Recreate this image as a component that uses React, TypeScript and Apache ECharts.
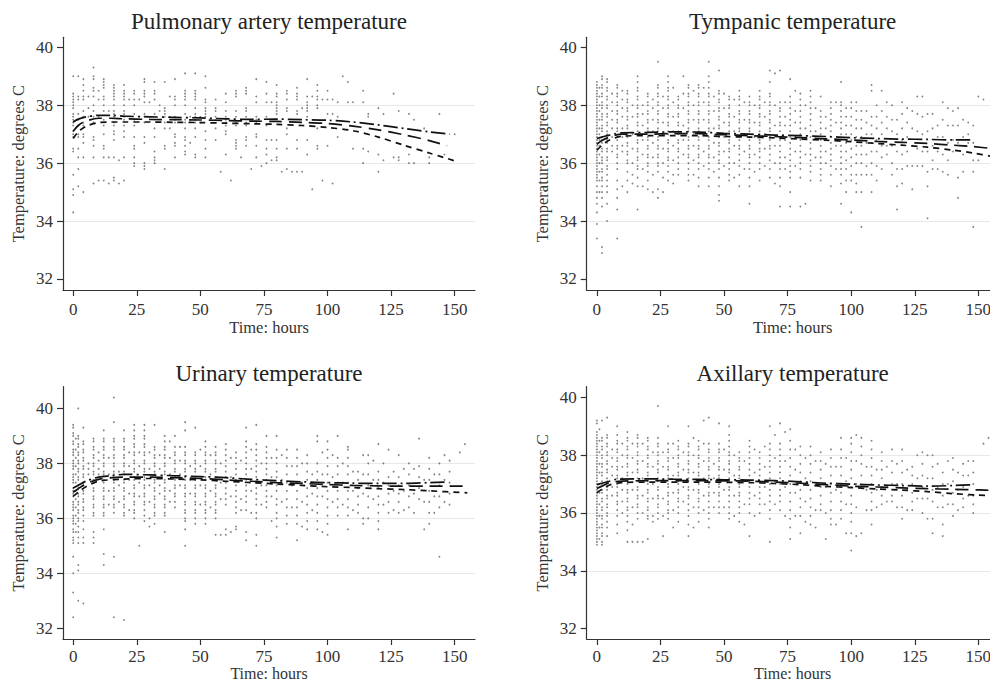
import React, { useEffect, useRef } from 'react';
import * as echarts from 'echarts';

type Col = [number, number[]];
type Pt = [number, number];

const panelTitles = ['Pulmonary artery temperature', 'Tympanic temperature', 'Urinary temperature', 'Axillary temperature'];
const xTickValues = [0, 25, 50, 75, 100, 125, 150];
const yTickValues = [32, 34, 36, 38, 40];
const xAxisTitle = 'Time: hours';
const yAxisTitle = 'Temperature: degrees C';

// ---------- observations: [hour, temperatures at that hour] ----------
const pulmonaryObs: Col[] = [
  [0, [39.0, 38.4, 38.3, 38.2, 38.1, 38.0, 37.9, 37.7, 37.6, 37.5, 37.4, 37.3, 37.1, 37.0, 36.9, 36.5, 36.4, 35.6, 35.1, 34.9, 34.3]],
  [2, [39.0, 38.3, 38.2, 37.7, 37.5, 37.3, 37.0, 36.9, 36.5, 36.2, 35.8, 35.2]],
  [4, [38.9, 38.7, 38.5, 38.3, 38.2, 37.8, 37.6, 37.4, 37.3, 37.0, 36.9, 36.7, 36.2, 35.0]],
  [6, [38.3, 37.9, 37.6]],
  [8, [39.3, 39.0, 38.9, 38.6, 38.5, 38.3, 38.0, 37.8, 37.6, 37.4, 36.9, 36.8, 36.6, 36.2, 35.3]],
  [10, [38.5, 38.2, 37.6, 35.4]],
  [12, [38.9, 38.8, 38.7, 38.6, 38.3, 38.2, 38.0, 37.8, 37.5, 37.3, 37.0, 36.6, 36.5, 36.2, 35.4]],
  [14, [37.8, 36.2, 35.3]],
  [16, [38.7, 38.6, 38.5, 38.4, 38.3, 38.2, 38.0, 37.8, 37.7, 37.6, 37.4, 37.3, 37.1, 37.0, 36.8, 36.2, 35.5, 35.4]],
  [18, [36.1, 35.3]],
  [20, [38.7, 38.5, 38.4, 38.3, 38.2, 38.0, 37.8, 37.7, 37.6, 37.5, 37.3, 37.1, 36.9, 36.2, 35.4]],
  [22, [38.2]],
  [24, [38.5, 38.4, 38.2, 38.0, 37.7, 37.5, 37.3, 36.9, 36.6, 36.5, 36.2, 36.0, 35.9]],
  [26, [38.2]],
  [28, [38.9, 38.8, 38.5, 38.4, 38.3, 38.1, 37.7, 37.6, 37.4, 36.9, 36.7, 36.0, 35.9, 35.8]],
  [30, [38.1]],
  [32, [38.8, 38.5, 38.4, 38.2, 37.7, 37.2, 36.9, 36.4, 36.2, 36.1, 36.0]],
  [34, [38.0, 37.8]],
  [36, [38.8, 37.9, 37.8, 37.7, 37.6, 37.4, 37.2, 36.6, 36.5, 35.8]],
  [38, [38.3, 37.6, 37.2]],
  [40, [38.9, 38.3, 38.2, 38.0, 37.6, 37.5, 37.4, 37.0, 36.9, 36.7, 36.6, 36.2]],
  [44, [39.1, 38.5, 38.4, 38.3, 38.2, 38.0, 37.7, 37.5, 37.4, 37.2, 36.9, 36.8, 36.6, 36.4, 36.3]],
  [46, [37.6, 36.7]],
  [48, [39.1, 38.5, 38.4, 38.3, 38.2, 37.9, 37.7, 37.6, 37.5, 37.4, 37.2, 36.9, 36.3, 36.2]],
  [50, [37.6, 37.4]],
  [52, [39.0, 38.6, 38.2, 38.1, 37.9, 37.8, 37.7, 37.6, 37.1, 36.8, 36.5, 36.2]],
  [56, [38.2, 37.9, 37.8, 37.6, 37.5, 37.2, 36.8]],
  [58, [35.7]],
  [60, [38.4, 38.1, 37.8, 37.6, 37.5, 37.4, 37.3, 37.1, 37.0, 36.3]],
  [62, [35.4]],
  [64, [38.5, 38.4, 38.3, 37.8, 37.6, 37.4, 37.3, 36.8, 36.7, 36.6, 36.5]],
  [66, [36.2]],
  [68, [38.6, 38.5, 38.4, 37.9, 37.8, 37.6, 37.4, 37.3, 36.9, 36.8, 36.6]],
  [70, [35.8]],
  [72, [38.9, 38.3, 38.1, 37.6, 37.5, 37.4, 37.0, 36.9, 36.6, 36.2]],
  [74, [35.9]],
  [76, [38.8, 38.4, 38.1, 37.6, 37.3, 36.8, 36.5, 36.3, 36.0]],
  [78, [38.1, 36.8, 36.1]],
  [80, [38.7, 38.4, 38.3, 38.1, 38.0, 37.9, 37.8, 37.7, 36.8, 36.5, 36.2, 36.1]],
  [82, [35.7]],
  [84, [38.5, 38.4, 38.2, 37.9, 37.8, 37.2, 37.0, 36.5, 35.8]],
  [86, [35.7]],
  [88, [38.6, 38.4, 38.3, 38.2, 37.8, 37.7, 36.8, 36.5, 35.7]],
  [90, [37.9, 35.7]],
  [92, [38.9, 38.3, 38.1, 38.0, 37.9, 37.8, 37.6, 36.8, 36.3]],
  [94, [38.3, 35.1]],
  [96, [38.7, 38.5, 38.3, 38.2, 38.0, 37.9, 37.2, 36.6, 36.5]],
  [98, [38.2, 35.4]],
  [100, [38.5, 38.2, 37.7, 36.6]],
  [102, [38.2, 37.7, 35.3]],
  [104, [38.1, 37.6, 36.9]],
  [106, [39.0]],
  [108, [38.8, 38.1]],
  [110, [38.1, 36.5]],
  [114, [38.5, 38.1, 36.5, 36.0]],
  [116, [37.7, 37.6, 36.4]],
  [120, [37.9, 36.3, 35.7]],
  [122, [37.7, 36.1]],
  [126, [38.4, 36.2]],
  [128, [37.8, 36.2, 36.1]],
  [132, [37.7, 36.3, 36.0]],
  [134, [37.5, 36.0]],
  [138, [37.2]],
  [140, [36.2, 36.0]],
  [144, [37.7]],
  [146, [36.3]],
  [150, [37.0]],
];

const tympanicObs: Col[] = [
  [0, [38.8, 38.7, 38.6, 38.5, 38.4, 38.3, 38.2, 38.1, 38.0, 37.9, 37.8, 37.7, 37.6, 37.5, 37.4, 37.3, 37.2, 37.1, 37.0, 36.9, 36.8, 36.7, 36.6, 36.5, 36.4, 36.3, 36.2, 36.1, 36.0, 35.9, 35.8, 35.7, 35.6, 35.5, 35.4, 35.2, 35.0, 34.8, 34.6, 34.3, 33.9, 33.4]],
  [1, [38.6, 38.3, 38.0, 37.8, 37.5, 37.2, 37.0, 36.8, 36.6, 36.3, 36.0, 35.7, 35.4, 35.0]],
  [2, [39.0, 38.9, 38.7, 38.6, 38.4, 38.3, 38.1, 38.0, 37.9, 37.7, 37.6, 37.5, 37.3, 37.2, 37.1, 36.9, 36.8, 36.7, 36.5, 36.4, 36.2, 36.1, 36.0, 35.8, 35.7, 35.5, 35.4, 35.2, 35.0, 34.8, 34.5, 33.1, 32.9]],
  [4, [38.9, 38.8, 38.6, 38.5, 38.3, 38.2, 38.0, 37.9, 37.7, 37.6, 37.4, 37.3, 37.1, 37.0, 36.8, 36.7, 36.5, 36.4, 36.2, 36.1, 35.9, 35.8, 35.6, 35.4, 35.2, 35.0, 34.6, 34.0]],
  [6, [38.4, 38.1, 37.8, 37.5, 37.2, 36.9, 36.6, 36.4]],
  [8, [38.7, 38.6, 38.4, 38.3, 38.1, 38.0, 37.8, 37.7, 37.5, 37.4, 37.2, 37.1, 36.9, 36.8, 36.6, 36.5, 36.3, 36.2, 36.0, 35.8, 35.4, 35.1, 34.8, 34.4, 33.4]],
  [10, [38.5, 38.2, 37.9, 37.6, 37.2, 36.9, 36.6, 36.4, 35.2]],
  [12, [38.5, 38.4, 38.2, 38.1, 37.9, 37.8, 37.6, 37.5, 37.3, 37.2, 37.0, 36.9, 36.7, 36.6, 36.4, 36.3, 36.1, 36.0, 35.7, 35.4, 35.0]],
  [14, [38.0, 37.6, 37.0, 36.5, 36.0, 35.6, 35.3]],
  [16, [39.0, 38.8, 38.6, 38.5, 38.3, 38.2, 38.0, 37.9, 37.7, 37.6, 37.4, 37.3, 37.1, 37.0, 36.8, 36.7, 36.5, 36.4, 36.2, 36.1, 35.9, 35.8, 35.5, 35.2, 34.4]],
  [18, [38.0, 37.7, 37.3, 36.8, 36.3, 35.8, 35.2]],
  [20, [38.4, 38.3, 38.1, 38.0, 37.8, 37.7, 37.5, 37.4, 37.2, 37.1, 36.9, 36.8, 36.6, 36.5, 36.3, 36.2, 36.0, 35.9, 35.7, 35.4, 35.1]],
  [22, [38.2, 37.9, 37.5, 37.1, 36.7, 36.2, 35.6, 35.0]],
  [24, [39.5, 38.7, 38.6, 38.4, 38.3, 38.1, 38.0, 37.8, 37.7, 37.5, 37.4, 37.2, 37.1, 36.9, 36.8, 36.6, 36.5, 36.3, 36.2, 36.0, 35.9, 35.7, 35.1, 34.8]],
  [26, [38.3, 37.9, 37.4, 37.0, 36.5, 36.0, 35.5, 35.0]],
  [28, [39.0, 38.8, 38.6, 38.5, 38.3, 38.2, 38.0, 37.9, 37.7, 37.6, 37.4, 37.3, 37.1, 37.0, 36.8, 36.7, 36.5, 36.4, 36.2, 36.1, 35.9, 35.7, 35.4]],
  [30, [38.6, 38.1, 37.6, 37.1, 36.6, 36.1, 35.6, 35.3]],
  [32, [38.3, 38.2, 38.0, 37.9, 37.7, 37.6, 37.4, 37.3, 37.1, 37.0, 36.8, 36.7, 36.5, 36.4, 36.2, 36.0, 35.8, 35.6]],
  [34, [39.0, 38.4, 37.9, 37.3, 36.8, 36.3]],
  [36, [38.7, 38.6, 38.4, 38.3, 38.1, 38.0, 37.8, 37.7, 37.5, 37.4, 37.2, 37.1, 36.9, 36.8, 36.6, 36.5, 36.3, 36.2, 36.0, 35.8, 35.6, 35.4]],
  [38, [38.5, 38.0, 37.5, 37.0, 36.6, 36.1, 35.6]],
  [40, [38.7, 38.6, 38.4, 38.3, 38.1, 38.0, 37.8, 37.7, 37.5, 37.4, 37.2, 37.1, 36.9, 36.8, 36.6, 36.5, 36.3, 36.2, 36.0, 35.8, 35.5, 35.2]],
  [42, [38.6, 38.1, 37.5, 37.0, 36.4, 35.9]],
  [44, [39.5, 39.0, 38.8, 38.6, 38.4, 38.3, 38.1, 38.0, 37.8, 37.7, 37.5, 37.4, 37.2, 37.1, 36.9, 36.8, 36.6, 36.5, 36.3, 36.2, 36.0, 35.8, 35.5, 35.2]],
  [46, [38.3, 37.8, 37.2, 36.7, 36.2, 35.7]],
  [48, [39.2, 38.5, 38.4, 38.2, 38.1, 37.9, 37.8, 37.6, 37.5, 37.3, 37.2, 37.0, 36.9, 36.7, 36.6, 36.4, 36.3, 36.1, 36.0, 35.8, 35.5, 35.2, 34.9, 34.7]],
  [50, [38.4, 37.9, 37.4, 36.9, 36.4, 35.9]],
  [52, [38.3, 38.2, 38.0, 37.9, 37.7, 37.6, 37.4, 37.3, 37.1, 37.0, 36.8, 36.7, 36.5, 36.4, 36.2, 36.0, 35.8, 35.6, 35.4]],
  [54, [38.2, 37.6, 37.1, 36.6, 36.0, 35.5]],
  [56, [38.5, 38.3, 38.2, 38.0, 37.8, 37.7, 37.5, 37.4, 37.2, 37.1, 36.9, 36.8, 36.6, 36.5, 36.3, 36.1, 35.9, 35.6, 35.2]],
  [58, [38.1, 37.5, 37.0, 36.4, 35.8]],
  [60, [38.3, 38.1, 38.0, 37.8, 37.7, 37.5, 37.4, 37.2, 37.1, 36.9, 36.8, 36.6, 36.5, 36.3, 36.2, 36.0, 35.8, 35.5, 35.2, 34.6]],
  [62, [38.0, 37.4, 36.9, 36.3, 35.7]],
  [64, [38.5, 38.3, 38.2, 38.0, 37.9, 37.7, 37.6, 37.4, 37.3, 37.1, 37.0, 36.8, 36.7, 36.5, 36.4, 36.2, 36.0, 35.8, 35.4]],
  [66, [38.1, 37.6, 37.0, 36.5, 35.9]],
  [68, [39.2, 38.8, 38.4, 38.3, 38.1, 38.0, 37.8, 37.7, 37.5, 37.4, 37.2, 37.1, 36.9, 36.8, 36.6, 36.5, 36.3, 36.1, 35.8, 35.5]],
  [70, [39.1, 38.0, 37.3, 36.6, 36.0, 35.3]],
  [72, [39.2, 38.1, 37.9, 37.8, 37.6, 37.4, 37.3, 37.1, 36.9, 36.8, 36.6, 36.4, 36.2, 36.0, 35.8, 35.5, 35.2, 34.5]],
  [74, [38.1, 37.6, 37.3, 36.8, 36.2, 35.8]],
  [76, [38.9, 38.3, 38.1, 37.9, 37.7, 37.5, 37.3, 37.1, 36.9, 36.7, 36.5, 36.3, 36.1, 35.9, 35.7, 35.5, 35.0, 34.5]],
  [78, [38.5, 37.8, 37.4, 36.9, 36.4, 35.9]],
  [80, [38.4, 38.2, 38.0, 37.8, 37.6, 37.4, 37.2, 37.0, 36.8, 36.6, 36.4, 36.2, 36.0, 35.8, 35.5, 34.5]],
  [82, [38.0, 37.2, 36.3, 34.6]],
  [84, [38.5, 38.3, 38.1, 37.9, 37.7, 37.5, 37.3, 37.1, 36.9, 36.7, 36.5, 36.3, 36.1, 35.9, 35.7, 35.4]],
  [86, [37.9, 37.1, 36.2]],
  [88, [38.3, 37.8, 37.6, 37.4, 37.2, 37.0, 36.8, 36.6, 36.4, 36.2, 36.0, 35.8, 35.6, 35.4]],
  [90, [37.6, 37.2, 36.8, 36.4, 36.0]],
  [92, [38.1, 37.9, 37.7, 37.5, 37.3, 37.1, 36.9, 36.7, 36.5, 36.3, 36.1, 35.9, 35.6, 35.2]],
  [94, [38.1, 37.4, 36.6, 35.8]],
  [96, [38.8, 38.1, 38.0, 37.8, 37.6, 37.4, 37.2, 37.0, 36.8, 36.6, 36.4, 36.2, 36.0, 35.8, 35.6, 35.3, 34.6]],
  [98, [37.9, 37.6, 37.3, 37.0, 36.7, 36.4, 36.1, 35.8, 35.4, 35.0]],
  [100, [38.1, 37.9, 37.6, 37.3, 37.0, 36.8, 36.5, 36.2, 35.9, 35.6, 35.4, 34.3]],
  [102, [38.1, 37.8, 37.5, 37.2, 36.9, 36.6, 36.3, 36.0, 35.6, 35.3, 35.0]],
  [104, [37.8, 37.5, 37.2, 36.9, 36.6, 36.3, 36.0, 35.6, 35.0, 33.8]],
  [106, [37.8, 37.4, 37.0, 36.7, 36.3, 35.9, 35.6]],
  [108, [38.7, 38.5, 37.6, 37.3, 37.0, 36.7, 36.4, 36.0, 35.6, 35.0]],
  [110, [38.0, 37.6, 37.2, 36.8, 36.4, 35.9, 35.4]],
  [112, [38.5, 37.8, 37.4, 37.0, 36.6, 36.2, 35.8]],
  [114, [38.1, 37.6, 37.2, 36.6, 36.3]],
  [116, [38.0, 37.5, 37.1, 36.6, 36.0, 35.6]],
  [118, [37.5, 37.0, 36.4, 35.8, 35.2, 34.4]],
  [120, [38.1, 37.7, 37.2, 36.8, 36.3, 35.8, 35.3]],
  [122, [37.9, 37.4, 36.9, 36.4, 35.9]],
  [124, [37.8, 37.2, 36.6, 35.9, 35.1]],
  [126, [38.3, 37.7, 37.1, 36.5, 35.9]],
  [128, [38.3, 37.6, 37.0, 36.4, 35.9]],
  [130, [37.7, 37.1, 36.4, 35.7, 35.2, 34.1]],
  [132, [37.7, 37.2, 36.6, 36.1, 35.8]],
  [134, [37.3, 36.9, 36.4, 35.8]],
  [136, [38.1, 37.5, 36.9, 36.3, 35.7]],
  [138, [37.9, 37.3, 36.7, 36.1, 35.6]],
  [140, [37.8, 37.3, 36.8, 36.4]],
  [142, [37.9, 37.3, 36.7, 35.5, 34.8]],
  [144, [37.5, 36.9, 36.3, 35.7]],
  [146, [37.4, 37.0, 36.7]],
  [148, [37.3, 36.7, 36.1, 35.7, 33.8]],
  [150, [38.3, 36.1]],
  [152, [38.2]],
];

const urinaryObs: Col[] = [
  [0, [39.4, 39.3, 39.1, 39.0, 38.8, 38.7, 38.5, 38.4, 38.3, 38.1, 38.0, 37.9, 37.8, 37.6, 37.5, 37.4, 37.3, 37.1, 37.0, 36.9, 36.8, 36.6, 36.5, 36.4, 36.3, 36.1, 36.0, 35.9, 35.8, 35.6, 35.5, 35.3, 35.2, 35.1, 34.6, 34.0, 33.3, 32.4]],
  [1, [38.9, 38.5, 38.2, 37.9, 37.6, 37.3, 37.0, 36.7, 36.4, 36.1, 35.8, 35.5]],
  [2, [40.0, 39.0, 38.9, 38.7, 38.6, 38.4, 38.3, 38.1, 38.0, 37.8, 37.7, 37.5, 37.4, 37.2, 37.1, 36.9, 36.8, 36.6, 36.5, 36.3, 36.2, 36.0, 35.9, 35.7, 35.5, 35.3, 35.1, 34.3, 34.1, 33.0]],
  [4, [39.3, 38.8, 38.7, 38.5, 38.4, 38.2, 38.1, 37.9, 37.8, 37.6, 37.5, 37.3, 37.2, 37.0, 36.9, 36.7, 36.6, 36.4, 36.3, 36.1, 35.9, 35.6, 35.3, 35.1, 32.9]],
  [6, [38.0, 37.8, 37.6]],
  [8, [38.9, 38.8, 38.6, 38.5, 38.3, 38.2, 38.0, 37.9, 37.7, 37.6, 37.4, 37.3, 37.1, 37.0, 36.8, 36.7, 36.5, 36.4, 36.2, 36.1, 35.5, 35.3, 35.1]],
  [10, [38.4, 38.1, 37.8, 37.6]],
  [12, [39.2, 38.9, 38.8, 38.6, 38.5, 38.3, 38.2, 38.0, 37.9, 37.7, 37.6, 37.4, 37.3, 37.1, 37.0, 36.8, 36.7, 36.5, 36.4, 36.2, 36.1, 35.6, 34.7, 34.3]],
  [14, [38.2, 37.6, 37.0, 36.5]],
  [16, [40.4, 39.5, 38.9, 38.8, 38.6, 38.5, 38.3, 38.2, 38.0, 37.9, 37.7, 37.6, 37.4, 37.3, 37.1, 37.0, 36.8, 36.7, 36.5, 36.4, 36.2, 34.6, 32.4]],
  [18, [37.7, 37.2, 36.6]],
  [20, [39.2, 38.9, 38.8, 38.6, 38.5, 38.3, 38.2, 38.0, 37.9, 37.7, 37.6, 37.4, 37.3, 37.1, 37.0, 36.8, 36.7, 36.5, 36.4, 36.2, 36.1, 32.3]],
  [22, [38.4, 37.9, 37.4, 36.9, 36.3]],
  [24, [39.4, 39.2, 39.0, 38.9, 38.7, 38.6, 38.4, 38.3, 38.1, 38.0, 37.8, 37.7, 37.5, 37.4, 37.2, 37.1, 36.9, 36.8, 36.6, 36.5, 36.3, 36.2, 36.0]],
  [26, [38.4, 37.9, 37.3, 36.8, 35.0]],
  [28, [39.4, 39.2, 39.0, 38.9, 38.7, 38.6, 38.4, 38.3, 38.1, 38.0, 37.8, 37.7, 37.5, 37.4, 37.2, 37.1, 36.9, 36.8, 36.6, 36.5, 36.3, 36.1, 35.9]],
  [30, [38.4, 37.8, 37.2, 36.6, 36.0, 35.7]],
  [32, [39.4, 38.6, 38.5, 38.3, 38.2, 38.0, 37.9, 37.7, 37.6, 37.4, 37.3, 37.1, 37.0, 36.8, 36.7, 36.5, 36.4, 36.2, 36.1, 35.8]],
  [34, [38.3, 37.8, 37.2, 36.9]],
  [36, [39.0, 38.8, 38.6, 38.5, 38.3, 38.2, 38.0, 37.9, 37.7, 37.6, 37.4, 37.3, 37.1, 37.0, 36.8, 36.7, 36.5, 36.4, 36.2, 36.1, 35.5]],
  [38, [38.8, 38.2, 37.6, 37.0, 36.6]],
  [40, [39.0, 38.6, 38.4, 38.3, 38.1, 38.0, 37.8, 37.7, 37.5, 37.4, 37.2, 37.1, 36.9, 36.8, 36.6, 36.4]],
  [42, [38.6, 38.1, 37.6, 37.2]],
  [44, [39.5, 39.2, 38.6, 38.4, 38.3, 38.1, 38.0, 37.8, 37.7, 37.5, 37.4, 37.2, 37.1, 36.9, 36.8, 36.6, 36.5, 36.3, 36.2, 36.0, 35.9, 35.6, 35.0]],
  [46, [37.9, 37.4, 36.9]],
  [48, [39.3, 38.4, 38.3, 38.1, 38.0, 37.8, 37.7, 37.5, 37.4, 37.2, 37.1, 36.9, 36.8, 36.6, 36.5, 36.3, 36.2, 36.0, 35.8]],
  [50, [38.5, 37.9, 37.2, 36.5]],
  [52, [38.8, 38.6, 38.4, 38.3, 38.1, 38.0, 37.8, 37.7, 37.5, 37.4, 37.2, 37.1, 36.9, 36.8, 36.6, 36.5, 36.3, 36.2, 36.0, 35.8]],
  [54, [38.3, 37.6, 37.0, 36.4]],
  [56, [38.6, 38.4, 38.3, 38.1, 38.0, 37.8, 37.7, 37.5, 37.4, 37.2, 37.1, 36.9, 36.8, 36.6, 36.5, 36.3, 36.2, 36.0, 35.4]],
  [58, [38.0, 37.3, 36.7, 35.4]],
  [60, [38.7, 38.5, 38.3, 38.1, 37.9, 37.7, 37.5, 37.3, 37.1, 36.9, 36.7, 36.5, 35.6, 35.4]],
  [62, [38.2, 37.5, 36.8, 35.5]],
  [64, [38.4, 38.2, 38.0, 37.8, 37.6, 37.4, 37.2, 37.0, 36.8, 36.6, 36.4, 36.2, 35.7, 35.6]],
  [66, [38.1, 37.4, 36.7, 36.3]],
  [68, [39.3, 38.8, 38.6, 38.4, 38.2, 38.0, 37.8, 37.6, 37.4, 37.2, 37.0, 36.8, 36.6, 36.3, 35.5, 35.2]],
  [70, [38.5, 37.8, 37.0, 36.2]],
  [72, [39.4, 38.7, 38.5, 38.3, 38.1, 37.9, 37.7, 37.5, 37.3, 37.1, 36.9, 36.7, 36.5, 36.2, 36.0, 35.4, 35.0]],
  [74, [38.0, 37.2, 36.5]],
  [76, [39.0, 38.6, 38.4, 38.2, 38.0, 37.8, 37.6, 37.4, 37.2, 37.0, 36.8, 36.6, 36.4]],
  [78, [38.2, 37.5, 36.8, 35.9]],
  [80, [39.0, 38.5, 38.2, 38.0, 37.7, 37.5, 37.2, 37.0, 36.7, 36.5, 36.2, 36.0, 35.7, 35.3]],
  [82, [38.3, 37.4, 36.6]],
  [84, [38.5, 38.2, 37.9, 37.6, 37.3, 37.0, 36.7, 36.4, 36.1, 35.8]],
  [86, [37.9, 37.2, 36.4]],
  [88, [38.5, 38.2, 37.9, 37.6, 37.3, 37.0, 36.7, 36.4, 36.1, 35.8, 35.2]],
  [90, [38.0, 37.3, 36.6, 35.7]],
  [92, [38.3, 38.0, 37.7, 37.4, 37.1, 36.8, 36.5, 36.2, 35.9, 35.6]],
  [94, [37.6, 36.9, 36.3]],
  [96, [39.0, 38.8, 38.0, 37.7, 37.4, 37.1, 36.8, 36.5, 36.2, 35.9, 35.6]],
  [98, [38.4, 37.6, 36.8, 35.5]],
  [100, [38.8, 38.5, 38.2, 37.9, 37.6, 37.3, 37.0, 36.7, 36.4, 36.1, 35.8, 35.4]],
  [102, [38.3, 37.5, 36.6]],
  [104, [39.0, 38.2, 37.9, 37.6, 37.3, 37.0, 36.7, 36.4, 36.1]],
  [106, [38.0, 37.3, 36.5]],
  [108, [38.6, 38.5, 38.2, 37.9, 37.6, 37.3, 37.0, 36.7, 36.4, 36.1, 35.6]],
  [110, [37.7, 37.0, 36.3]],
  [112, [37.7, 37.4, 37.1, 36.8, 36.5, 36.2]],
  [114, [38.3, 37.6, 36.9, 36.0, 35.8]],
  [116, [38.3, 38.0, 37.6, 37.2, 36.8, 36.4, 36.0]],
  [118, [38.1, 37.4, 36.7]],
  [120, [38.7, 37.7, 37.4, 37.1, 36.8, 36.5, 36.2, 35.9, 35.6]],
  [122, [38.0, 37.3, 36.5]],
  [124, [38.5, 37.5, 37.2, 36.9, 36.6, 36.2]],
  [126, [37.7, 37.0, 36.3]],
  [128, [38.3, 37.5, 37.2, 36.9, 36.6, 36.2]],
  [130, [37.8, 37.0, 36.3]],
  [132, [38.0, 37.6, 37.2, 36.8, 36.4]],
  [134, [37.8, 36.9, 36.2]],
  [136, [38.9, 37.9, 37.5, 37.1, 36.7]],
  [138, [37.4, 36.6, 35.6]],
  [140, [38.2, 37.8, 37.4, 37.0, 36.6, 36.2, 35.8]],
  [142, [37.6, 36.8, 36.2]],
  [144, [38.0, 37.6, 37.2, 36.8, 36.4, 34.6]],
  [146, [38.3, 37.4, 36.6]],
  [148, [38.1, 37.7, 37.3, 36.9, 36.5]],
  [152, [38.4]],
  [154, [38.7]],
];

const axillaryObs: Col[] = [
  [0, [39.2, 39.1, 38.8, 38.7, 38.6, 38.5, 38.4, 38.3, 38.2, 38.1, 38.0, 37.9, 37.8, 37.7, 37.6, 37.5, 37.4, 37.3, 37.2, 37.1, 37.0, 36.9, 36.8, 36.7, 36.6, 36.5, 36.4, 36.3, 36.2, 36.1, 36.0, 35.9, 35.8, 35.7, 35.6, 35.5, 35.4, 35.3, 35.2, 35.1, 35.0, 34.9]],
  [1, [38.9, 38.5, 38.1, 37.7, 37.4, 37.0, 36.7, 36.3, 35.9, 35.5, 35.1]],
  [2, [39.2, 38.6, 38.5, 38.3, 38.2, 38.0, 37.9, 37.7, 37.6, 37.4, 37.3, 37.1, 37.0, 36.8, 36.7, 36.5, 36.4, 36.2, 36.1, 35.9, 35.8, 35.6, 35.5, 35.3, 35.2, 35.0, 34.9]],
  [4, [39.3, 38.7, 38.6, 38.4, 38.3, 38.1, 38.0, 37.8, 37.7, 37.5, 37.4, 37.2, 37.1, 36.9, 36.8, 36.6, 36.5, 36.3, 36.2, 36.0, 35.9, 35.7, 35.5, 35.2]],
  [6, [38.2, 37.9, 37.6, 37.3, 36.9, 36.6]],
  [8, [39.0, 38.7, 38.5, 38.4, 38.2, 38.1, 37.9, 37.8, 37.6, 37.5, 37.3, 37.2, 37.0, 36.9, 36.7, 36.6, 36.4, 36.3, 36.1, 35.9, 35.6, 35.3]],
  [10, [38.4, 38.0, 37.6, 37.2, 36.8, 36.4, 36.0]],
  [12, [38.8, 38.6, 38.5, 38.3, 38.2, 38.0, 37.9, 37.7, 37.6, 37.4, 37.3, 37.1, 37.0, 36.8, 36.7, 36.5, 36.4, 36.2, 36.1, 35.9, 35.7, 35.4, 35.0]],
  [14, [38.4, 37.9, 37.4, 36.8, 36.2, 35.6, 35.0]],
  [16, [38.7, 38.6, 38.4, 38.3, 38.1, 38.0, 37.8, 37.7, 37.5, 37.4, 37.2, 37.1, 36.9, 36.8, 36.6, 36.5, 36.3, 36.2, 36.0, 35.8, 35.0]],
  [18, [38.4, 37.8, 37.2, 36.6, 36.0, 35.0]],
  [20, [38.6, 38.5, 38.3, 38.2, 38.0, 37.9, 37.7, 37.6, 37.4, 37.3, 37.1, 37.0, 36.8, 36.7, 36.5, 36.4, 36.2, 36.1, 35.9, 35.8, 35.1]],
  [22, [38.1, 37.6, 37.0, 36.5, 35.9, 35.7]],
  [24, [39.7, 38.6, 38.4, 38.3, 38.1, 38.0, 37.8, 37.7, 37.5, 37.4, 37.2, 37.1, 36.9, 36.8, 36.6, 36.5, 36.3, 36.2, 36.0, 35.8]],
  [26, [38.1, 37.6, 37.1, 36.5, 35.9, 35.2]],
  [28, [39.0, 38.4, 38.2, 38.1, 37.9, 37.8, 37.6, 37.5, 37.3, 37.2, 37.0, 36.9, 36.7, 36.6, 36.4, 36.3, 36.1, 36.0, 35.8]],
  [30, [38.4, 37.9, 37.3, 36.7, 36.1, 35.5]],
  [32, [38.5, 38.3, 38.2, 38.0, 37.9, 37.7, 37.6, 37.4, 37.3, 37.1, 37.0, 36.8, 36.7, 36.5, 36.4, 36.2, 36.0, 35.7]],
  [34, [38.1, 37.5, 36.9, 36.4]],
  [36, [39.0, 38.4, 38.3, 38.1, 38.0, 37.8, 37.7, 37.5, 37.4, 37.2, 37.1, 36.9, 36.8, 36.6, 36.5, 36.3, 36.1, 35.9, 35.6, 35.2]],
  [38, [38.6, 38.0, 37.4, 36.8, 36.2, 35.5]],
  [40, [38.5, 38.3, 38.2, 38.0, 37.9, 37.7, 37.6, 37.4, 37.3, 37.1, 37.0, 36.8, 36.7, 36.5, 36.4, 36.2, 36.0, 35.7]],
  [42, [39.2, 38.4, 37.8, 37.2, 36.6, 36.1]],
  [44, [39.3, 38.4, 38.2, 38.1, 37.9, 37.8, 37.6, 37.5, 37.3, 37.2, 37.0, 36.9, 36.7, 36.6, 36.4, 36.2, 36.0, 35.8, 35.5]],
  [46, [37.7, 37.2, 36.7, 36.2]],
  [48, [39.1, 38.4, 38.2, 38.1, 37.9, 37.8, 37.6, 37.5, 37.3, 37.2, 37.0, 36.9, 36.7, 36.6, 36.4, 36.2, 36.0]],
  [50, [38.2, 37.5, 36.8, 36.2]],
  [52, [39.0, 38.7, 38.5, 38.3, 38.1, 38.0, 37.8, 37.7, 37.5, 37.4, 37.2, 37.1, 36.9, 36.8, 36.6, 36.4, 36.2, 36.0, 35.8]],
  [54, [38.0, 37.3, 36.6, 35.9]],
  [56, [38.1, 37.9, 37.8, 37.6, 37.5, 37.3, 37.2, 37.0, 36.9, 36.7, 36.6, 36.4, 36.2, 36.0, 35.7]],
  [58, [37.8, 37.1, 36.3, 35.6]],
  [60, [38.5, 38.3, 38.1, 37.9, 37.7, 37.5, 37.3, 37.1, 36.9, 36.7, 36.5, 36.3, 36.0, 35.2]],
  [62, [38.2, 37.4, 36.6, 35.9]],
  [64, [38.1, 37.9, 37.7, 37.5, 37.3, 37.1, 36.9, 36.7, 36.5, 36.3, 36.0]],
  [66, [38.3, 37.6, 36.9, 36.3]],
  [68, [39.0, 38.4, 38.2, 38.0, 37.8, 37.6, 37.4, 37.2, 37.0, 36.8, 36.6, 36.4, 36.1, 35.8, 35.0]],
  [70, [38.7, 37.9, 37.1, 36.3]],
  [72, [39.1, 38.4, 38.2, 38.0, 37.8, 37.6, 37.4, 37.2, 37.0, 36.8, 36.6, 36.4, 36.1]],
  [74, [38.8, 37.8, 36.9, 35.9]],
  [76, [38.9, 38.5, 38.2, 37.9, 37.6, 37.3, 37.0, 36.7, 36.4, 36.1, 35.8, 35.5, 35.1]],
  [78, [38.2, 37.5, 36.7, 35.9]],
  [80, [38.3, 38.0, 37.7, 37.4, 37.1, 36.8, 36.5, 36.2, 35.9, 35.3]],
  [82, [37.9, 37.2, 36.4, 35.7]],
  [84, [38.3, 38.0, 37.7, 37.4, 37.1, 36.8, 36.5, 36.2, 35.9, 35.6]],
  [86, [37.8, 37.0, 36.1, 35.5]],
  [88, [38.1, 37.8, 37.5, 37.2, 36.9, 36.6, 36.3, 36.1]],
  [90, [37.7, 36.9, 36.0, 35.1]],
  [92, [38.2, 37.9, 37.6, 37.3, 37.0, 36.7, 36.4, 36.1, 35.8, 35.6]],
  [94, [37.6, 36.8, 35.6]],
  [96, [38.6, 38.2, 37.9, 37.6, 37.3, 37.0, 36.7, 36.4, 36.1, 35.8]],
  [98, [37.9, 37.1, 36.3, 35.3]],
  [100, [38.6, 38.4, 38.1, 37.8, 37.5, 37.2, 36.9, 36.6, 36.3, 36.0, 35.7, 35.3, 34.7]],
  [102, [38.7, 37.8, 37.0, 36.2, 35.2]],
  [104, [38.6, 38.3, 38.0, 37.7, 37.3, 35.3]],
  [106, [37.6, 36.8, 36.1]],
  [108, [38.5, 38.2, 37.9, 37.6, 37.3, 37.0, 36.7, 36.4, 36.1, 35.6]],
  [110, [37.5, 36.8, 36.2]],
  [112, [38.1, 37.8, 37.5, 37.2, 36.9, 36.6, 36.3]],
  [114, [37.6, 36.9, 36.4]],
  [116, [38.2, 37.8, 37.4, 37.0, 36.6, 36.4]],
  [118, [37.7, 37.0, 36.2]],
  [120, [38.2, 37.8, 37.4, 37.0, 36.6, 36.2, 35.8]],
  [122, [37.5, 36.8, 36.1]],
  [124, [37.6, 37.3, 37.0, 36.7, 36.4, 36.1]],
  [126, [38.0, 37.2, 36.5]],
  [128, [38.1, 37.7, 37.3, 36.9, 36.5, 36.0]],
  [130, [38.0, 37.2, 36.5, 35.8]],
  [132, [38.0, 37.6, 37.2, 36.8, 36.4, 35.8, 35.3]],
  [134, [37.7, 36.9, 36.2]],
  [136, [37.4, 37.0, 36.6, 36.2, 35.6, 35.2]],
  [138, [37.8, 37.0, 36.3]],
  [140, [37.9, 37.5, 37.1, 36.7, 36.3, 35.9]],
  [142, [37.4, 36.8, 36.1]],
  [144, [37.7, 37.3, 36.9, 36.5, 36.2]],
  [146, [37.8, 37.3, 36.6]],
  [148, [37.8, 37.4, 37.0, 36.6, 36.3, 36.0]],
  [152, [38.4]],
  [154, [38.6]],
];

// ---------- fitted curves: [hour, temperature] ----------
const pulmonaryFitA: Pt[] = [[0, 37.42], [2, 37.52], [5, 37.6], [10, 37.65], [15, 37.65], [20, 37.62], [30, 37.6], [40, 37.58], [50, 37.56], [60, 37.53], [70, 37.51], [80, 37.52], [90, 37.5], [100, 37.48], [110, 37.42], [120, 37.32], [130, 37.2], [140, 37.08], [148, 37.0]];
const pulmonaryFitB: Pt[] = [[0, 37.1], [2, 37.3], [5, 37.45], [10, 37.55], [15, 37.55], [20, 37.53], [30, 37.51], [40, 37.5], [50, 37.49], [60, 37.47], [70, 37.45], [80, 37.44], [90, 37.41], [100, 37.37], [110, 37.28], [120, 37.15], [130, 36.98], [140, 36.78], [147, 36.6]];
const pulmonaryFitC: Pt[] = [[0, 36.85], [2, 37.08], [5, 37.27], [10, 37.4], [15, 37.42], [20, 37.42], [30, 37.42], [40, 37.41], [50, 37.4], [60, 37.38], [70, 37.36], [80, 37.34], [90, 37.3], [100, 37.23], [110, 37.12], [120, 36.9], [130, 36.62], [140, 36.35], [150, 36.08]];

const tympanicFitA: Pt[] = [[0, 36.85], [2, 36.9], [5, 36.97], [10, 37.05], [20, 37.06], [30, 37.08], [40, 37.07], [50, 37.03], [60, 37.0], [70, 36.97], [80, 36.95], [90, 36.92], [100, 36.88], [110, 36.85], [120, 36.83], [130, 36.82], [140, 36.8], [148, 36.8]];
const tympanicFitB: Pt[] = [[0, 36.65], [2, 36.78], [5, 36.9], [10, 37.0], [20, 37.0], [30, 37.02], [40, 37.02], [50, 36.98], [60, 36.95], [70, 36.92], [80, 36.88], [90, 36.84], [100, 36.8], [110, 36.75], [120, 36.72], [130, 36.68], [140, 36.62], [148, 36.57], [156, 36.5]];
const tympanicFitC: Pt[] = [[0, 36.45], [2, 36.62], [5, 36.8], [10, 36.93], [20, 36.95], [30, 36.95], [40, 36.95], [50, 36.92], [60, 36.9], [70, 36.87], [80, 36.83], [90, 36.79], [100, 36.74], [110, 36.68], [120, 36.62], [130, 36.55], [140, 36.45], [148, 36.35], [156, 36.22]];

const urinaryFitA: Pt[] = [[0, 37.1], [2, 37.2], [5, 37.35], [10, 37.5], [15, 37.55], [20, 37.6], [30, 37.58], [40, 37.55], [50, 37.52], [60, 37.48], [70, 37.42], [80, 37.37], [90, 37.33], [100, 37.3], [110, 37.28], [120, 37.27], [130, 37.27], [140, 37.3], [147, 37.32]];
const urinaryFitB: Pt[] = [[0, 36.95], [2, 37.08], [5, 37.25], [10, 37.42], [20, 37.5], [30, 37.5], [40, 37.48], [50, 37.45], [60, 37.4], [70, 37.35], [80, 37.3], [90, 37.27], [100, 37.23], [110, 37.2], [120, 37.18], [130, 37.17], [140, 37.17], [155, 37.17]];
const urinaryFitC: Pt[] = [[0, 36.8], [2, 36.95], [5, 37.15], [10, 37.35], [20, 37.43], [30, 37.45], [40, 37.43], [50, 37.4], [60, 37.35], [70, 37.3], [80, 37.25], [90, 37.2], [100, 37.15], [110, 37.12], [120, 37.08], [130, 37.05], [140, 37.0], [155, 36.93]];

const axillaryFitA: Pt[] = [[0, 36.98], [2, 37.03], [5, 37.1], [8, 37.17], [20, 37.18], [30, 37.17], [40, 37.16], [50, 37.15], [60, 37.14], [70, 37.12], [80, 37.08], [90, 37.03], [100, 37.0], [110, 36.97], [120, 36.95], [130, 36.93], [140, 36.95], [148, 36.98]];
const axillaryFitB: Pt[] = [[0, 36.85], [2, 36.93], [5, 37.05], [10, 37.1], [20, 37.12], [40, 37.12], [60, 37.1], [70, 37.07], [80, 37.03], [90, 36.98], [100, 36.93], [110, 36.9], [120, 36.87], [130, 36.84], [140, 36.82], [150, 36.8], [156, 36.78]];
const axillaryFitC: Pt[] = [[0, 36.7], [2, 36.82], [5, 36.97], [10, 37.05], [20, 37.07], [40, 37.07], [60, 37.05], [70, 37.02], [80, 36.98], [90, 36.92], [100, 36.88], [110, 36.83], [120, 36.79], [130, 36.74], [140, 36.67], [150, 36.62], [156, 36.6]];

const panelObs = [pulmonaryObs, tympanicObs, urinaryObs, axillaryObs];
const panelFits = [
  [pulmonaryFitA, pulmonaryFitB, pulmonaryFitC],
  [tympanicFitA, tympanicFitB, tympanicFitC],
  [urinaryFitA, urinaryFitB, urinaryFitC],
  [axillaryFitA, axillaryFitB, axillaryFitC],
];

// ---------- layout / style ----------
const LAYOUT = [
  { left: 63, top: 37.3, width: 412, height: 252.7, yMin: 31.62, yMax: 40.345, titleTop: 10, xNameGap: 27, xLabelMargin: 11, xNameSize: 16.5 },
  { left: 586.7, top: 37.3, width: 412, height: 252.7, yMin: 31.62, yMax: 40.345, titleTop: 10, xNameGap: 27, xLabelMargin: 11, xNameSize: 16.5 },
  { left: 63, top: 386.7, width: 412, height: 252.3, yMin: 31.61, yMax: 40.79, titleTop: 361.5, xNameGap: 22, xLabelMargin: 9, xNameSize: 16 },
  { left: 586.7, top: 386.7, width: 412, height: 252.3, yMin: 31.64, yMax: 40.37, titleTop: 361.5, xNameGap: 22, xLabelMargin: 9, xNameSize: 16 },
];
const X_MIN = -4;
const X_MAX = 158;
const FONT = '"Liberation Serif", "DejaVu Serif", "Times New Roman", serif';
const AXIS_COLOR = '#333';
const DASHES = [[14, 4, 2, 4], [13, 7], [6, 5]];

export default function App() {
  const ref = useRef<HTMLDivElement>(null);

  useEffect(() => {
    if (!ref.current) return;
    const chart = echarts.init(ref.current, null, { renderer: 'svg' });

    const grid: any[] = [];
    const xAxis: any[] = [];
    const yAxis: any[] = [];
    const title: any[] = [];
    const series: any[] = [];

    LAYOUT.forEach((L, i) => {
      grid.push({
        left: L.left, top: L.top, width: L.width, height: L.height,
        containLabel: false, outerBoundsMode: 'none',
      });
      title.push({
        text: panelTitles[i],
        left: L.left + L.width / 2,
        top: L.titleTop,
        textAlign: 'center',
        padding: 0,
        textStyle: { fontFamily: FONT, fontSize: 23, fontWeight: 'normal', color: '#222' },
      });
      xAxis.push({
        type: 'value', gridIndex: i, min: X_MIN, max: X_MAX,
        name: xAxisTitle, nameLocation: 'middle', nameGap: L.xNameGap,
        nameTextStyle: { fontFamily: FONT, fontSize: L.xNameSize, color: '#333', lineHeight: L.xNameSize },
        axisLine: { show: true, onZero: false, lineStyle: { color: AXIS_COLOR, width: 1.2 } },
        axisTick: { show: true, length: 6, customValues: xTickValues, lineStyle: { color: AXIS_COLOR, width: 1.2 } },
        axisLabel: { customValues: xTickValues, fontFamily: FONT, fontSize: 17, color: '#333', margin: L.xLabelMargin },
        splitLine: { show: false },
      });
      yAxis.push({
        type: 'value', gridIndex: i, min: L.yMin, max: L.yMax,
        name: yAxisTitle, nameLocation: 'middle', nameGap: 36,
        nameTextStyle: { fontFamily: FONT, fontSize: 16.5, color: '#333' },
        axisLine: { show: true, onZero: false, lineStyle: { color: AXIS_COLOR, width: 1.2 } },
        axisTick: { show: true, length: 6, customValues: yTickValues, lineStyle: { color: AXIS_COLOR, width: 1.2 } },
        axisLabel: { customValues: yTickValues, fontFamily: FONT, fontSize: 17, color: '#333', margin: 10 },
        splitLine: { show: true, showMinLine: false, showMaxLine: false, lineStyle: { color: '#e8e8e8', width: 1 } },
      });

      const pts: number[][] = [];
      panelObs[i].forEach(([h, temps]) => temps.forEach((t) => pts.push([h, t])));
      series.push({
        type: 'scatter', xAxisIndex: i, yAxisIndex: i, data: pts,
        symbol: 'circle', symbolSize: 1.8,
        itemStyle: { color: '#666' }, z: 2, silent: true,
      });
      panelFits[i].forEach((fit, k) => {
        series.push({
          type: 'line', xAxisIndex: i, yAxisIndex: i, data: fit,
          showSymbol: false, smooth: 0.3,
          lineStyle: { color: '#111', width: 1.7, type: DASHES[k] },
          z: 3, silent: true,
        });
      });
    });

    chart.setOption({
      animation: false,
      backgroundColor: '#fff',
      textStyle: { fontFamily: FONT },
      title, grid, xAxis, yAxis, series,
    });

    return () => chart.dispose();
  }, []);

  return <div ref={ref} style={{ position: 'fixed', left: 0, top: 0, width: 990, height: 681 }} />;
}
